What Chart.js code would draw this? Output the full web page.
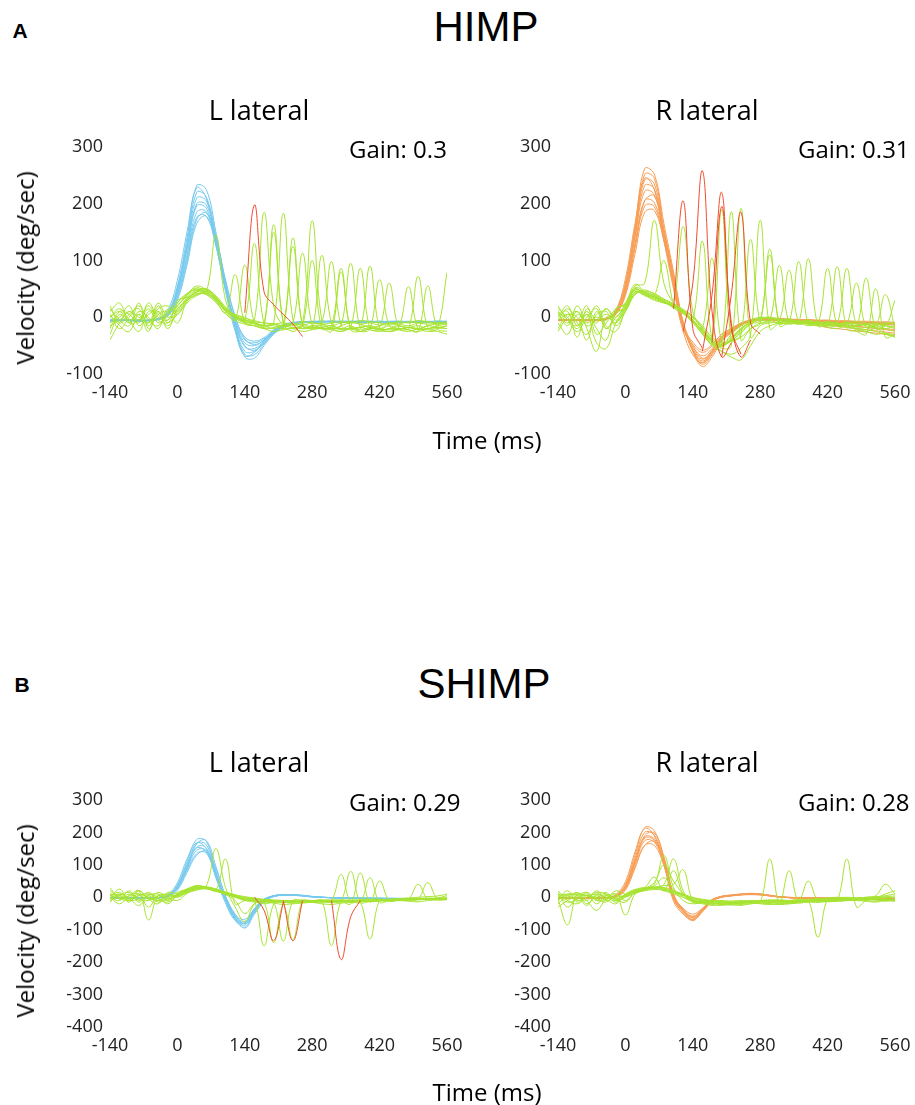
<!DOCTYPE html>
<html>
<head>
<meta charset="utf-8">
<script src="https://cdn.jsdelivr.net/npm/chart.js@4.4.1/dist/chart.umd.min.js"></script>
<style>
html,body{margin:0;padding:0;background:#fff;}
body{width:915px;height:1105px;overflow:hidden;position:relative;font-family:"Open Sans",sans-serif;}
.t{position:absolute;white-space:nowrap;color:#000;line-height:1;}
.c{transform:translate(-50%,-50%);}
.l{transform:translateY(-50%);}
.rot{transform:translate(-50%,-50%) rotate(-90deg);}
.panel{position:absolute;}
.big{font-family:"Liberation Sans",Arial,sans-serif;font-size:42px;}
.tag{font-family:"Liberation Sans Narrow","Liberation Sans",Arial,sans-serif;font-weight:bold;font-size:21px;}
.sub{font-size:27px;}
.gain{font-size:24px;}
.ax{font-size:24px;}
</style>
</head>
<body>
<div class="t c tag" style="left:20px;top:30px;">A</div>
<div class="t c big" style="left:486px;top:27px;">HIMP</div>
<div class="t c sub" style="left:259px;top:109px;">L lateral</div>
<div class="t c sub" style="left:707px;top:109px;">R lateral</div>
<div class="t l gain" style="left:349px;top:149px;">Gain: 0.3</div>
<div class="t l gain" style="left:798px;top:149px;">Gain: 0.31</div>
<div class="t rot ax" style="left:25px;top:268px;">Velocity (deg/sec)</div>
<div class="t c ax" style="left:487px;top:440px;">Time (ms)</div>

<div class="t c tag" style="left:22px;top:684px;">B</div>
<div class="t c big" style="left:484px;top:684px;">SHIMP</div>
<div class="t c sub" style="left:259px;top:761px;">L lateral</div>
<div class="t c sub" style="left:707px;top:761px;">R lateral</div>
<div class="t l gain" style="left:349px;top:802px;">Gain: 0.29</div>
<div class="t l gain" style="left:798px;top:802px;">Gain: 0.28</div>
<div class="t rot ax" style="left:25px;top:921px;">Velocity (deg/sec)</div>
<div class="t c ax" style="left:487px;top:1092px;">Time (ms)</div>

<script>
// ---------- shared axes ----------
const timeMs = [-140,-120,-100,-80,-60,-40, -20,0,20,40,60,80, 100,120,140,160,180,200, 220,240,260,280,300,320, 340,360,380,400,420,440, 460,480,500,520,540,560];
const xTicks = [-140,0,140,280,420,560];
const yTicksHimp = [-100,0,100,200,300];
const yTicksShimp = [-400,-300,-200,-100,0,100,200,300];

// ---------- HIMP, L lateral ----------
const himpLeftHead = [
 [-6,-5,-6,-7,-6,-4, 8,55,140,232,225,150, 60,-20,-70,-72,-50,-30, -18,-12,-10,-9,-8,-8, -7,-7,-8,-8,-9,-8, -8,-7,-8,-8,-9,-9],
 [-5,-6,-5,-5,-6,-3, 6,48,125,210,205,140, 55,-15,-60,-60,-45,-28, -16,-11,-9,-8,-8,-7, -7,-8,-8,-7,-8,-9, -8,-8,-7,-8,-8,-8],
 [-4,-5,-6,-6,-5,-2, 5,45,118,196,192,132, 50,-12,-52,-55,-42,-26, -15,-10,-8,-8,-7,-7, -8,-8,-9,-8,-8,-7, -7,-8,-9,-8,-7,-8],
 [-6,-6,-5,-6,-5,-3, 4,40,110,185,186,128, 52,-8,-45,-50,-40,-25, -15,-11,-9,-8,-8,-8, -9,-8,-7,-7,-8,-8, -9,-9,-8,-8,-8,-7],
 [-5,-5,-5,-6,-6,-3, 3,38,104,176,178,125, 50,-5,-40,-45,-38,-24, -14,-10,-8,-7,-7,-8, -8,-8,-8,-9,-8,-8, -7,-8,-8,-9,-9,-8],
 [-7,-6,-6,-7,-6,-4, 7,52,132,220,212,142, 56,-18,-65,-66,-47,-29, -17,-12,-9,-9,-8,-8, -8,-7,-7,-8,-8,-8, -9,-8,-8,-8,-7,-7],
 [-5,-5,-6,-5,-5,-3, 2,30,92,165,178,135, 62,0,-35,-42,-36,-22, -13,-9,-8,-8,-7,-8, -8,-9,-8,-8,-7,-8, -8,-8,-9,-8,-8,-8],
 [-6,-5,-5,-6,-5,-3, 6,46,122,200,198,138, 54,-10,-50,-58,-44,-27, -16,-11,-9,-8,-8,-7, -8,-8,-9,-8,-7,-8, -8,-9,-8,-8,-7,-8],
 [-6,-6,-5,-6,-6,-3, 12,65,150,228,210,130, 45,-25,-68,-62,-42,-26, -16,-11,-9,-8,-8,-8, -8,-8,-7,-8,-8,-9, -8,-8,-8,-7,-8,-8],
 [-5,-5,-5,-5,-6,-4, 3,34,98,172,184,140, 66,2,-38,-48,-40,-24, -14,-10,-8,-8,-8,-7, -8,-8,-8,-8,-9,-8, -8,-8,-7,-8,-8,-8]
];
const himpLeftEye = [
 [20,-10,5,15,-15,10, -5,25,40,50,45,145, 30,0,-10,-15,-20,-18, -15,-12,-14,-10,-12,-15, -10,-8,-12,-10,-14,-10, -12,-8,-10,-12,-10,-8],
 [-30,5,-10,10,0,-20, 15,5,30,45,48,35, 15,5,0,-5,185,20, -15,-20,-10,170,-5,-20, -15,-10,-12,-18,-15,-10, -12,-15,-10,-8,-12,-10],
 [0,15,-5,-25,10,5, -15,10,35,48,50,38, 18,2,-8,-12,-15,-10, 183,-5,-20,-15,-10,98, -15,-20,-18,-15,-20,-12, -15,-18,-20,-15,-12,-10],
 [-15,-5,10,0,-10,25, 0,15,30,40,42,30, 12,0,-6,-10,-12,163, -10,-25,-15,-20,109,-10, -20,-15,-25,-20,66,-15, -20,-18,-15,-20,-15,-12],
 [5,-20,0,20,-5,-15, 10,20,40,55,48,32, 10,-5,92,-10,-15,-20, -12,125,-15,-20,-18,-15, -20,-18,86,-20,-22,-15, -20,-18,-22,-20,-18,-15],
 [-40,-10,10,-5,15,-10, 5,30,35,42,40,28, 8,75,-10,-15,-18,-12, -20,140,-15,-18,-20,-15, 86,-20,-18,-15,-20,-22, -18,54,-20,-15,-18,-20],
 [10,25,-10,-5,20,-5, -10,5,25,38,42,30, 12,0,-5,-8,-10,-12, -15,-10,113,-15,-18,-20, -15,95,-20,-18,-22,-20, -15,-20,72,-18,-20,-15],
 [-10,0,20,-15,5,10, -20,15,30,44,46,34, 14,2,-4,-10,-15,150, -10,-15,-12,-18,-15,-20, -25,-18,-20,90,-20,-25, -22,-18,-20,-25,-20,79],
 [5,-15,-25,5,-10,15, 20,10,32,46,50,36, 16,4,-2,-6,-10,-12, -15,-18,-20,-15,-20,-22, -25,-20,-18,-22,-25,-20, -22,-25,-20,-22,-25,-30],
 [-20,10,5,-10,25,0, -5,20,38,52,44,30, 10,-2,-8,-10,-14,-12, -10,-12,-8,-10,-12,-10, -8,-10,-6,-8,-10,-12, -8,-10,-6,-8,-10,-12],
 [15,-5,-15,25,-20,5, 10,-10,28,40,45,32, 14,3,-5,130,-12,-15, -20,-18,-15,100,-20,-18, -22,-20,-25,-20,-18,60, -20,-22,-25,-20,-18,-20],
 [0,10,-5,5,-25,20, -10,25,42,48,40,26, 6,-6,-12,-15,-20,-25, -22,-20,-25,-22,-20,-25, 80,-22,-25,-20,-22,-25, -20,-22,-25,55,-20,-25]
];
const himpLeftSaccade = [
 [null,null,null,null,null,null, null,null,null,null,null,null, null,null,8,198,45,22, 5,-12,-34,null,null,null, null,null,null,null,null,null, null,null,null,null,null,null]
];

// ---------- HIMP, R lateral ----------
const himpRightHead = [
 [-5,-4,-5,-6,-5,-3, 10,60,160,262,252,165, 80,-10,-60,-87,-70,-42, -28,-15,-8,-6,-5,-5, -6,-7,-8,-8,-9,-10, -10,-11,-12,-12,-13,-14],
 [-4,-5,-5,-5,-4,-2, 9,55,150,242,235,150, 70,-12,-58,-80,-64,-38, -25,-13,-6,-4,-3,-4, -5,-6,-6,-7,-8,-9, -9,-10,-10,-11,-12,-12],
 [-6,-5,-6,-6,-5,-3, 8,50,140,222,216,142, 62,-15,-55,-74,-58,-35, -23,-12,-5,-3,-2,-3, -4,-5,-5,-6,-6,-7, -8,-8,-9,-9,-10,-10],
 [-5,-5,-4,-5,-5,-2, 7,46,130,206,202,140, 60,-18,-52,-68,-55,-33, -22,-12,-6,-5,-4,-5, -6,-8,-10,-12,-14,-16, -18,-20,-22,-24,-26,-28],
 [-4,-4,-5,-5,-4,-2, 6,42,122,196,195,136, 56,-20,-48,-62,-50,-30, -20,-10,-5,-3,-2,-2, -3,-4,-4,-5,-5,-6, -6,-7,-7,-8,-8,-9],
 [-5,-5,-5,-4,-4,-3, 5,38,112,185,188,134, 58,-16,-44,-58,-48,-30, -20,-11,-6,-5,-5,-6, -8,-10,-12,-15,-18,-20, -22,-24,-26,-28,-30,-32],
 [-6,-6,-5,-5,-6,-3, 9,52,145,232,226,148, 66,-14,-57,-77,-60,-36, -24,-12,-6,-4,-3,-4, -4,-5,-5,-6,-7,-8, -8,-9,-10,-10,-11,-12],
 [-5,-5,-6,-5,-5,-3, 10,58,155,252,245,156, 74,-12,-60,-83,-66,-40, -26,-14,-7,-5,-4,-5, -6,-7,-8,-9,-10,-12, -14,-16,-18,-20,-22,-24],
 [-5,-5,-5,-6,-5,-3, 6,44,126,205,214,150, 72,-8,-50,-72,-62,-40, -26,-14,-7,-5,-4,-5, -6,-8,-9,-10,-12,-14, -15,-16,-18,-19,-20,-22],
 [-5,-5,-5,-5,-5,-2, 12,68,165,245,225,135, 50,-25,-66,-80,-60,-36, -24,-13,-7,-5,-4,-4, -5,-6,-6,-7,-7,-8, -8,-9,-9,-10,-10,-11]
];
const himpRightEye = [
 [5,-10,10,-15,-5,15, 0,25,55,60,171,60, 25,10,-5,-25,-45,-50, -30,-15,-5,0,-2,-5, -3,-8,-5,-10,-8,-12, -10,-15,-12,-18,-20,-15],
 [-20,5,-5,20,-30,-10, 10,15,45,40,38,100, 30,160,10,-20,-40,-48, -35,-20,-10,-5,-8,-10, -12,-10,-15,-12,-18,-20, -15,-22,-25,-20,-28,-30],
 [10,-5,-25,0,15,-20, 5,20,48,42,36,28, 20,10,-5,134,-40,-50, 186,-40,-20,-10,120,-15, -10,-12,-8,-10,-15,-12, -10,-8,-12,-15,-10,-12],
 [-5,15,-10,-30,5,10, -15,10,42,45,38,30, 22,12,0,-22,-42,-55, -50,192,-35,-15,-10,-8, -10,98,-12,-10,-15,-12, 86,-15,-18,-12,-15,-20],
 [15,0,-20,5,-45,-55, -10,18,50,40,32,26, 18,8,-8,-30,-50,-60, -65,-55,-30,171,-20,-10, -5,-8,-10,-12,86,-15, -12,-20,-25,-30,-28,-35],
 [0,20,-15,10,-20,-40, 15,22,52,44,35,27, 19,9,-10,-28,-45,190, -40,-35,-20,-10,-5,91, -10,-8,-12,-15,-10,-12, -15,-18,69,-20,-15,-18],
 [-10,-30,5,-5,20,-15, -25,12,40,48,40,32, 24,14,2,-18,-38,-48, -42,-30,137,-10,-5,-12, -8,-10,103,-15,-12,-10, -18,-15,-12,-15,40,-20],
 [5,10,-35,15,-5,5, -10,15,45,38,30,25, 20,10,-5,-25,-45,-60, -70,-75,-50,-25,-15,-10, -5,-8,-12,-10,-15,89, -20,-25,-30,50,-35,-30],
 [-25,0,10,-10,0,-5, 15,25,58,45,38,28, 16,6,-8,-28,-48,-52, -40,-22,-10,-4,-2,-5, -8,-6,-10,-12,-15,-12, -18,-20,-22,-25,-30,-35],
 [10,-15,20,-20,-60,0, -10,20,48,42,36,28, 20,8,-6,-24,-42,-50, -38,-20,-8,-2,0,-5, 83,-10,-8,-12,-10,-15, -12,60,-18,-15,-20,-25],
 [-5,5,0,-40,10,-20, 0,18,44,40,34,26, 20,10,-5,-20,104,-45, -42,-25,-12,-5,110,-10, -8,-12,-10,-8,-12,-15, -10,-12,-15,-18,-12,-10],
 [20,-5,-15,5,-10,15, -5,10,40,46,42,32, 22,12,0,-15,-35,-45, -40,-28,-12,-3,0,-3, -5,-8,-5,-10,-8,-12, -10,-15,-12,-10,-15,30]
];
const himpRightSaccade = [
 [null,null,null,null,null,null, null,null,null,null,null,null, 15,205,-20,-55,null,null, null,null,null,null,null,null, null,null,null,null,null,null, null,null,null,null,null,null],
 [null,null,null,null,null,null, null,null,null,null,null,null, null,-25,60,258,10,-70, -45,null,null,null,null,null, null,null,null,null,null,null, null,null,null,null,null,null],
 [null,null,null,null,null,null, null,null,null,null,null,null, null,null,null,-60,40,220, -20,-65,null,null,null,null, null,null,null,null,null,null, null,null,null,null,null,null],
 [null,null,null,null,null,null, null,null,null,null,null,null, null,null,null,null,-45,195, -10,-70,-40,null,null,null, null,null,null,null,null,null, null,null,null,null,null,null],
 [null,null,null,null,null,null, null,null,null,null,null,null, null,null,null,null,null,-70, 40,185,-10,-30,null,null, null,null,null,null,null,null, null,null,null,null,null,null]
];

// ---------- SHIMP, L lateral ----------
const shimpLeftHead = [
 [-3,-3,-4,-3,-3,-2, 6,38,110,178,172,80, -10,-70,-92,-45,-10,5, 8,8,6,2,0,-2, -3,-3,-4,-4,-4,-5, -5,-5,-5,-5,-6,-6],
 [-2,-3,-3,-3,-2,-1, 5,35,102,166,162,76, -8,-66,-86,-42,-9,4, 8,7,5,2,0,-2, -3,-3,-3,-4,-4,-4, -5,-5,-5,-5,-5,-5],
 [-3,-2,-3,-3,-3,-2, 5,32,95,155,152,72, -6,-62,-80,-40,-8,4, 7,7,5,2,0,-1, -2,-3,-3,-3,-4,-4, -4,-4,-5,-5,-5,-5],
 [-2,-2,-3,-2,-2,-1, 4,30,88,145,144,70, -4,-58,-74,-38,-8,3, 7,6,5,2,0,-1, -2,-2,-3,-3,-3,-4, -4,-4,-4,-4,-5,-5],
 [-2,-3,-2,-2,-3,-2, 4,28,82,135,136,68, -2,-54,-68,-36,-7,3, 6,6,4,1,0,-1, -2,-2,-2,-3,-3,-3, -3,-4,-4,-4,-4,-4],
 [-3,-3,-3,-2,-3,-2, 3,26,90,165,175,95, 2,-60,-95,-52,-14,2, 7,8,6,3,0,-1, -2,-3,-3,-4,-4,-4, -5,-5,-5,-6,-6,-6],
 [-2,-2,-2,-3,-2,-1, 6,36,98,152,140,62, -10,-65,-78,-35,-6,4, 7,6,4,1,0,-1, -2,-2,-3,-3,-3,-3, -4,-4,-4,-4,-5,-5],
 [-3,-3,-3,-3,-2,-1, 8,45,118,168,150,60, -18,-72,-80,-36,-6,5, 8,7,5,2,0,-1, -2,-3,-3,-3,-4,-4, -4,-5,-5,-5,-5,-5],
 [-2,-2,-3,-2,-2,-1, 2,22,76,130,142,88, 4,-52,-82,-48,-12,2, 6,7,5,2,0,-1, -2,-2,-3,-3,-3,-4, -4,-4,-4,-4,-5,-5]
];
const shimpLeftEye = [
 [30,-5,10,-10,5,-15, 0,8,22,32,35,150, 30,-30,-75,-20,-8,-10, -12,-10,-15,-12,-10,-8, -10,-12,-8,-10,-6,-8, -5,-8,-4,-6,-3,-5],
 [-5,10,-15,20,-5,0, 10,5,18,28,30,22, 12,2,-5,-10,-150,-20, -10,-12,-15,-10,-12,-15, -10,80,-15,-12,-10,-8, -10,-6,-8,-5,-6,-4],
 [0,-20,5,10,-30,5, -10,10,24,34,32,24, 14,4,-4,-8,-12,-15, -135,-10,-12,-15,-10,-149, -12,-15,-10,-12,-8,-10, -6,-8,-5,-6,-4,-5],
 [10,5,-10,-5,15,-10, -5,6,20,30,28,22, 118,-20,-10,-8,-12,-15, -20,-130,-12,-15,-12,-10, -15,-12,-15,-128,-10,-12, -8,-10,-6,-5,-8,-4],
 [-15,10,0,20,-5,-20, 15,12,26,36,30,20, 10,0,-8,-12,-15,-10, -12,-15,-10,-12,-15,-10, 70,-15,-10,-12,-10,-8, -5,-6,40,-5,-4,-3],
 [5,-5,-10,5,10,-5, -15,4,18,28,32,26, 16,6,-2,-6,-10,-12, -15,-18,-15,-12,-10,-15, -12,-20,75,-15,50,-10, -8,-6,-5,-4,-3,-2],
 [20,0,-5,-25,5,10, -5,8,22,30,30,20, 8,-10,-50,-20,-15,-140, -20,-15,-12,-10,-12,-15, -10,-12,-15,60,-15,-10, -8,-6,-5,-3,-4,-2],
 [-10,5,15,-5,-10,5, 10,2,16,26,28,22, 14,6,0,-4,-8,-10, -12,-14,-12,-10,-8,-10, -12,-10,-8,-6,-8,-10, -6,-4,-5,-3,-2,5],
 [5,15,-5,10,0,-10, 5,0,14,24,30,24, 16,8,2,-2,-6,-8, -10,-12,-14,-16,-14,-12, -10,-8,-10,-12,-8,-6, -4,-2,0,2,4,10],
 [0,-10,20,-15,10,0, -20,6,20,28,26,18, 10,0,-10,-15,-20,-15, -12,-10,-8,-10,-12,-10, -8,-12,-10,-8,-10,-12, -10,-8,-6,45,-5,-8],
 [-5,25,-10,5,-5,15, 0,-10,12,22,26,20, 12,4,-6,-10,-14,-18, -22,-20,-18,-16,-20,-22, -18,-16,-14,-12,-10,-8, -10,-12,-14,-10,-8,-6],
 [10,-5,5,20,-70,5, -10,15,25,35,30,20, 10,2,-6,-10,-12,-14, -16,-14,-12,-10,-12,-14, -12,-10,-12,-14,-12,-10, -8,-6,-4,-6,-4,-2]
];
const shimpLeftSaccade = [
 [null,null,null,null,null,null, null,null,null,null,null,null, null,null,null,0,-40,-134, -15,null,null,null,null,null, null,null,null,null,null,null, null,null,null,null,null,null],
 [null,null,null,null,null,null, null,null,null,null,null,null, null,null,null,null,null,null, -10,-134,-10,null,null,null, null,null,null,null,null,null, null,null,null,null,null,null],
 [null,null,null,null,null,null, null,null,null,null,null,null, null,null,null,null,null,null, null,null,null,null,null,-10, -192,-60,-10,null,null,null, null,null,null,null,null,null]
];

// ---------- SHIMP, R lateral ----------
const shimpRightHead = [
 [-3,-3,-4,-3,-3,-2, 6,40,130,215,205,120, -5,-48,-72,-42,-10,3, 7,10,12,10,6,2, -1,-2,-3,-3,-4,-4, -4,-5,-5,-5,-5,-6],
 [-2,-3,-3,-3,-2,-1, 5,36,120,200,192,112, -2,-45,-68,-40,-9,2, 6,9,11,9,5,1, -1,-2,-2,-3,-3,-4, -4,-4,-5,-5,-5,-5],
 [-3,-2,-3,-4,-3,-2, 4,32,110,186,180,106, 0,-42,-62,-38,-8,2, 5,8,10,8,5,1, -1,-2,-3,-3,-3,-4, -4,-4,-4,-5,-5,-5],
 [-2,-2,-3,-3,-2,-1, 4,30,102,174,170,102, 2,-38,-58,-36,-8,1, 5,8,9,8,4,1, -1,-1,-2,-2,-3,-3, -3,-4,-4,-4,-4,-5],
 [-3,-3,-3,-2,-2,-1, 3,26,94,160,160,98, 4,-34,-52,-34,-7,1, 4,7,8,7,4,1, 0,-1,-2,-2,-3,-3, -3,-3,-4,-4,-4,-4],
 [-3,-3,-2,-3,-3,-2, 3,28,108,190,198,125, 10,-40,-70,-45,-12,0, 5,9,11,10,6,2, 0,-2,-3,-3,-4,-4, -5,-5,-5,-6,-6,-6],
 [-2,-3,-3,-2,-3,-2, 5,34,112,182,176,108, 0,-40,-60,-37,-8,2, 6,9,10,9,5,1, -1,-2,-2,-3,-3,-3, -4,-4,-4,-5,-5,-5],
 [-3,-3,-3,-3,-2,-1, 8,48,140,212,190,100, -12,-52,-68,-36,-8,3, 7,10,12,10,6,2, -1,-2,-3,-3,-4,-4, -4,-5,-5,-5,-6,-6],
 [-2,-2,-3,-2,-2,-1, 2,22,90,160,172,115, 8,-38,-64,-44,-12,0, 5,8,10,9,5,1, -1,-2,-2,-3,-3,-3, -4,-4,-4,-4,-5,-5]
];
const shimpRightEye = [
 [0,10,-5,15,-10,5, -15,5,20,28,40,129, 30,-10,-20,-15,-12,-10, -12,-15,-18,-15,-20,-22, -18,-15,-12,-10,-8,-6, -5,-3,0,2,5,10],
 [-20,5,10,-10,20,-5, 10,-10,15,25,30,40, 118,20,-15,-12,-10,-15, -18,-20,-15,-12,-15,-18, -20,-15,-12,-10,-12,-8, -6,-4,-2,0,2,4],
 [15,-30,0,5,-5,10, -5,8,22,30,62,20, 82,10,-10,-15,-18,-20, -22,-25,-20,-18,-20,-22, -20,-18,-15,-12,-10,-8, -10,-6,-4,-2,-5,-8],
 [-5,-85,10,-20,5,-10, 0,6,18,26,28,30, 20,8,-10,-15,-18,-15, -12,-10,-12,-15,118,-20, 82,-15,-10,-123,-5,-10, 118,-30,-10,-8,-12,-6],
 [10,0,15,-10,-40,-5, 10,-55,10,22,30,25, 15,5,-5,-10,-12,-15, -18,-15,-12,-10,-8,-10, -12,-14,-10,-8,-6,-5, -8,-10,-12,-15,-10,-12],
 [5,-15,-5,10,-20,5, -5,5,18,28,45,100, 50,10,-15,-20,-25,-22, -20,-18,-15,-12,-10,-12, -14,-12,-10,-8,-10,-12, -10,-8,-6,-4,-2,0],
 [-10,10,5,-25,10,0, -10,4,16,24,30,36, 40,85,-10,-18,-22,-25, -20,-18,-15,-20,-22,-18, -15,-12,-10,-8,-10,-6, -4,-2,0,5,40,10],
 [0,-5,10,5,-5,-15, 5,2,14,22,26,22, 14,6,-2,-8,-12,-14, -16,-18,-15,-12,-10,-12, -10,-8,-6,-4,-2,0, -2,-4,-6,-8,-10,-12],
 [8,5,-10,0,10,-5, -20,10,24,30,28,20, 10,0,-8,-14,-18,-22, -24,-22,-20,-18,-16,-14, -12,-10,-8,-6,-4,-2, 0,-2,-4,-2,0,-2],
 [-8,20,-15,5,0,15, -10,0,12,20,24,24, 18,8,-4,-12,-16,-20, -18,-14,-10,-12,-14,-12, -10,-8,-10,-12,-14,-12, -10,-8,-6,-4,-8,-10],
 [-30,-10,5,15,-10,-5, 20,10,22,28,35,60, 25,0,-12,-16,-20,-18, -16,-14,-12,-10,-12,-14, -16,-12,50,-10,-8,-6, -4,-8,-10,-12,-8,-6],
 [20,-10,-20,0,15,10, -5,-15,16,26,32,28, 20,10,0,-6,-10,-14, -18,-16,-14,-12,-10,-8, -10,-12,-14,-16,-12,-10, -8,-6,-4,-2,10,20]
];
const shimpRightSaccade = [];

// ---------- styling ----------
const BLUE = '#76c9ee';
const ORANGE = '#f79d55';
const GREEN = '#a6e330';
const RED = '#f04b2b';
const TICK_FONT = {family: '"Open Sans", sans-serif', size: 18};

function series(arr, color, order) {
  return {
    data: timeMs.map((t, i) => ({x: t, y: arr[i]})),
    borderColor: color,
    borderWidth: 1,
    pointRadius: 0,
    fill: false,
    tension: 0.4,
    spanGaps: false,
    order: order
  };
}

function panel(p) {
  const wrap = document.createElement('div');
  wrap.className = 'panel';
  wrap.style.left = p.left + 'px';
  wrap.style.top = p.top + 'px';
  wrap.style.width = p.width + 'px';
  wrap.style.height = p.height + 'px';
  const cv = document.createElement('canvas');
  cv.width = p.width; cv.height = p.height;
  cv.style.width = p.width + 'px'; cv.style.height = p.height + 'px';
  wrap.appendChild(cv);
  document.body.insertBefore(wrap, document.body.firstChild);

  const datasets = [];
  p.saccade.forEach(a => datasets.push(series(a, RED, 0)));
  p.eye.forEach(a => datasets.push(series(a, GREEN, 1)));
  p.head.forEach(a => datasets.push(series(a, p.headColor, 2)));

  new Chart(cv, {
    type: 'line',
    data: {datasets: datasets},
    options: {
      responsive: false,
      animation: false,
      events: [],
      layout: {padding: {left: 0, top: p.padTop, right: p.padRight, bottom: 0}},
      plugins: {legend: {display: false}, tooltip: {enabled: false}, title: {display: false}},
      scales: {
        x: {
          type: 'linear', min: -140, max: 560,
          afterBuildTicks: s => { s.ticks = xTicks.map(v => ({value: v})); },
          afterFit: s => { s.height = p.xAxisH; s.paddingLeft = 0; s.paddingRight = 0; },
          grid: {display: false, drawTicks: false},
          border: {display: false},
          ticks: {font: TICK_FONT, color: '#222', padding: 8, autoSkip: false, maxRotation: 0}
        },
        y: {
          type: 'linear', min: p.yTicks[0], max: p.yTicks[p.yTicks.length - 1],
          afterBuildTicks: s => { s.ticks = p.yTicks.map(v => ({value: v})); },
          afterFit: s => { s.width = p.yAxisW; s.paddingTop = 0; s.paddingBottom = 0; },
          grid: {display: false, drawTicks: false},
          border: {display: false},
          ticks: {font: TICK_FONT, color: '#222', padding: 7, autoSkip: false}
        }
      }
    }
  });
}

panel({left: 30, top: 125, width: 440, height: 300, yAxisW: 80, padTop: 22, padRight: 23, xAxisH: 51,
  yTicks: yTicksHimp, head: himpLeftHead, eye: himpLeftEye, saccade: himpLeftSaccade, headColor: BLUE});
panel({left: 478, top: 125, width: 437, height: 300, yAxisW: 80, padTop: 22, padRight: 20, xAxisH: 51,
  yTicks: yTicksHimp, head: himpRightHead, eye: himpRightEye, saccade: himpRightSaccade, headColor: ORANGE});
panel({left: 30, top: 778, width: 440, height: 300, yAxisW: 80, padTop: 22, padRight: 23, xAxisH: 51,
  yTicks: yTicksShimp, head: shimpLeftHead, eye: shimpLeftEye, saccade: shimpLeftSaccade, headColor: BLUE});
panel({left: 478, top: 778, width: 437, height: 300, yAxisW: 80, padTop: 22, padRight: 20, xAxisH: 51,
  yTicks: yTicksShimp, head: shimpRightHead, eye: shimpRightEye, saccade: shimpRightSaccade, headColor: ORANGE});
</script>
</body>
</html>
